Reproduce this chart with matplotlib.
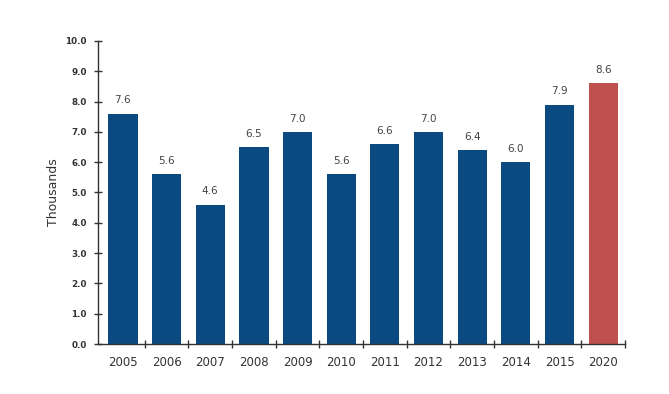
import matplotlib
matplotlib.use("Agg")
import matplotlib.pyplot as plt

years = ["2005", "2006", "2007", "2008", "2009", "2010", "2011", "2012", "2013", "2014", "2015", "2020"]
values = [7.6, 5.6, 4.6, 6.5, 7.0, 5.6, 6.6, 7.0, 6.4, 6.0, 7.9, 8.6]
colors = ["#0B4A80"] * 11 + ["#C0504D"]

fig = plt.figure(figsize=(6.69, 3.94), dpi=100)
ax = fig.add_axes([98/669, 1-344/394, (625-98)/669, (344-41)/394])

x = list(range(len(years)))
ax.bar(x, values, width=0.67, color=colors, zorder=2)
for xi, v in zip(x, values):
    ax.annotate(f"{v:.1f}", (xi, v), xytext=(0, 6), textcoords="offset points",
                ha="center", va="bottom", fontsize=7.5, color="#444444")

ax.set_xlim(-0.57, 11.5)
ax.set_ylim(0, 10)
ax.set_yticks([i for i in range(11)])
ax.set_yticklabels([f"{i:.1f}" for i in range(11)], fontsize=6.3, fontweight="bold",
                   color="#333333")
ax.set_xticks(x)
ax.set_xticklabels(years, fontsize=8.5, color="#333333")
ax.tick_params(axis="x", which="major", length=0, pad=9)
ax.set_xticks([i + 0.5 for i in range(len(years))], minor=True)
ax.tick_params(axis="x", which="minor", length=6, direction="inout", color="#333333", width=1)
ax.tick_params(axis="y", length=6, direction="inout", color="#333333", width=1, pad=5)

for s in ["top", "right"]:
    ax.spines[s].set_visible(False)
for s in ["left", "bottom"]:
    ax.spines[s].set_color("#333333")
    ax.spines[s].set_linewidth(1)

ax.set_ylabel("Thousands", fontsize=9, color="#333333", labelpad=4)

fig.savefig("out.png", dpi=100)
